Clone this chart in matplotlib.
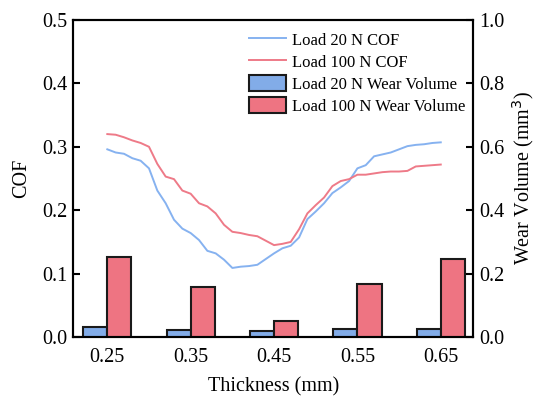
import matplotlib.pyplot as plt
import numpy as np

# COF curves, sampled every 0.01 mm from 0.25 to 0.65
thick = np.round(np.arange(0.25, 0.6501, 0.01), 2)
cof_20 = [0.296, 0.291, 0.289, 0.282, 0.278, 0.266, 0.231, 0.211, 0.185, 0.171,
          0.164, 0.153, 0.136, 0.132, 0.122, 0.109, 0.111, 0.112, 0.114, 0.123,
          0.132, 0.140, 0.144, 0.157, 0.186, 0.198, 0.211, 0.227, 0.236, 0.246,
          0.266, 0.271, 0.285, 0.288, 0.291, 0.296, 0.301, 0.303, 0.304, 0.306,
          0.307]
cof_100 = [0.320, 0.319, 0.315, 0.310, 0.306, 0.300, 0.273, 0.253, 0.249, 0.231,
           0.226, 0.211, 0.206, 0.195, 0.177, 0.166, 0.164, 0.161, 0.159, 0.152,
           0.145, 0.147, 0.150, 0.170, 0.195, 0.208, 0.220, 0.238, 0.246, 0.249,
           0.256, 0.256, 0.258, 0.260, 0.261, 0.261, 0.262, 0.269, 0.270, 0.271,
           0.272]

# wear volume bars
bar_x = [0.25, 0.35, 0.45, 0.55, 0.65]
wear_20 = [0.031, 0.021, 0.018, 0.027, 0.027]
wear_100 = [0.251, 0.159, 0.050, 0.166, 0.246]

plt.rcParams['font.family'] = 'Liberation Serif'
plt.rcParams['font.size'] = 14.5

fig = plt.figure(figsize=(5.37, 3.98), dpi=100)
ax = fig.add_axes([0.1365, 0.153, 0.745, 0.797])
ax2 = ax.twinx()

l1, = ax.plot(thick, cof_20, color='#86B2F0', lw=1.4, label='Load 20 N COF')
l2, = ax.plot(thick, cof_100, color='#EE7A88', lw=1.4, label='Load 100 N COF')

w = 0.029
b1 = ax2.bar(bar_x, wear_20, width=-w, align='edge', color='#82ACE8',
             edgecolor='#1a1a1a', lw=1.5, label='Load 20 N Wear Volume')
b2 = ax2.bar(bar_x, wear_100, width=w, align='edge', color='#EE7482',
             edgecolor='#1a1a1a', lw=1.5, label='Load 100 N Wear Volume')

ax.set_xlim(0.2092, 0.6891)
ax.set_ylim(0, 0.5)
ax2.set_ylim(0, 1.0)
ax.set_xticks(bar_x)
ax.set_xticklabels(['0.25', '0.35', '0.45', '0.55', '0.65'])
ax.set_yticks([0, 0.1, 0.2, 0.3, 0.4, 0.5])
ax.set_yticklabels(['0.0', '0.1', '0.2', '0.3', '0.4', '0.5'])
ax2.set_yticks([0, 0.2, 0.4, 0.6, 0.8, 1.0])
ax2.set_yticklabels(['0.0', '0.2', '0.4', '0.6', '0.8', '1.0'])

for a in (ax, ax2):
    for s in a.spines.values():
        s.set_linewidth(1.5)
    a.tick_params(direction='in', length=5, width=1.5, pad=4)
ax.tick_params(axis='x', length=0, pad=8)

ax.set_xlabel('Thickness (mm)', labelpad=7)
ax.set_ylabel('COF', labelpad=8)
ax2.set_ylabel('Wear Volume (mm$^3$)', labelpad=4)

ax2.legend(handles=[l1, l2, b1, b2], loc='upper right', frameon=False,
           fontsize=12, bbox_to_anchor=(1.01, 1.0), handlelength=2.2,
           handleheight=1.1, handletextpad=0.4, labelspacing=0.25,
           borderaxespad=0.3)

fig.savefig('out.png', dpi=100)
